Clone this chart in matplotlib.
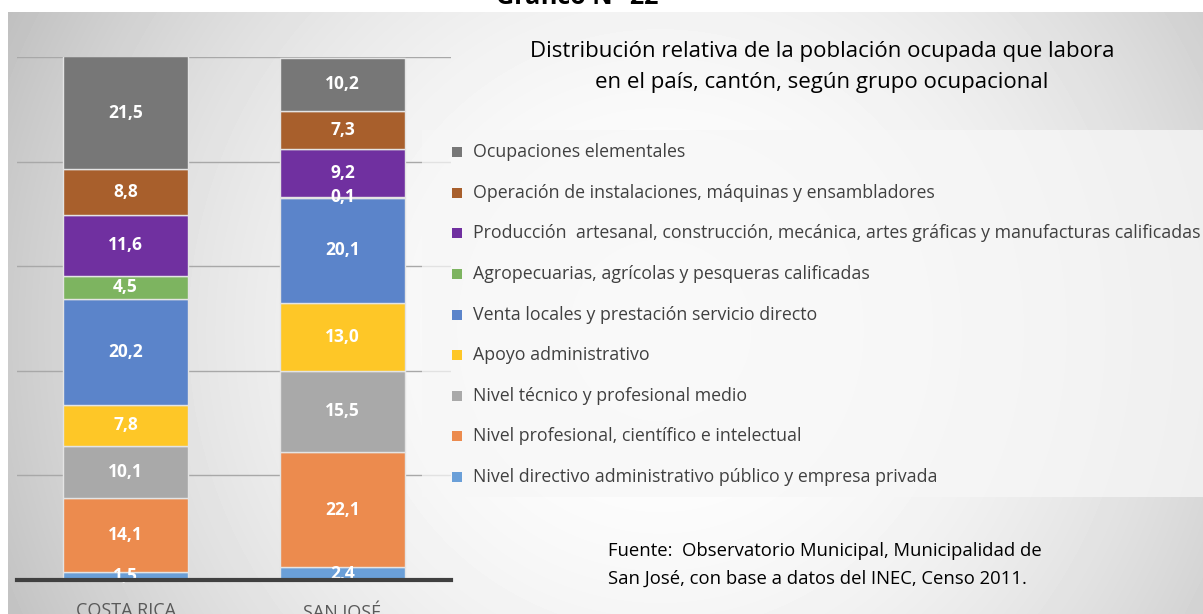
import numpy as np
import matplotlib
matplotlib.use("Agg")
import matplotlib.pyplot as plt
from matplotlib.patches import Rectangle

plt.rcParams['font.family'] = ['Open Sans', 'DejaVu Sans']

# data (bottom to top of each stacked bar)
categories = ["COSTA RICA", "SAN JOSÉ"]
groups = [
    "Nivel directivo administrativo público y empresa privada",
    "Nivel profesional, científico e intelectual",
    "Nivel técnico y profesional medio",
    "Apoyo administrativo",
    "Venta locales y prestación servicio directo",
    "Agropecuarias, agrícolas y pesqueras calificadas",
    "Producción  artesanal, construcción, mecánica, artes gráficas y manufacturas calificadas",
    "Operación de instalaciones, máquinas y ensambladores",
    "Ocupaciones elementales",
]
costa_rica = [1.5, 14.1, 10.1, 7.8, 20.2, 4.5, 11.6, 8.8, 21.5]
san_jose = [2.4, 22.1, 15.5, 13.0, 20.1, 0.1, 9.2, 7.3, 10.2]
colors = ['#6A9FD8', '#EC8B4E', '#A9A9A9', '#FEC727', '#5B84CA',
          '#7DB460', '#7030A0', '#A85F2C', '#777777']

W, H = 1203, 614
fig = plt.figure(figsize=(W / 100, H / 100), dpi=100)

# background gradient (white strip at the top, grey edges)
bg = fig.add_axes([0, 0, 1, 1], zorder=-10)
yy, xx = np.mgrid[0:H, 0:W]
r2 = ((xx - 660) / 650.0) ** 2 + ((yy - 330) / 650.0) ** 2
img = np.clip(1 - 0.2 * r2, 0, 1)
img[:12, :] = 1.0
img[:, :8] = 1.0
bg.imshow(img, cmap='gray', vmin=0, vmax=1, aspect='auto', interpolation='bilinear')
bg.axis('off')

# bar chart
ax = fig.add_axes([17 / W, 1 - 580 / H, (451 - 17) / W, (580 - 57) / H])
ax.patch.set_alpha(0)
x = np.arange(len(categories))
bottoms = np.zeros(len(categories))
for name, cr, sj, col in zip(groups, costa_rica, san_jose, colors):
    vals = np.array([cr, sj])
    ax.bar(x, vals, 0.58, bottom=bottoms, color=col,
           edgecolor='#e4e4e4', linewidth=1, zorder=3, label=name)
    for xi, v, b in zip(x, vals, bottoms):
        ax.text(xi, b + v / 2, f"{v:.1f}".replace('.', ','), ha='center', va='center',
                color='white', fontsize=12.5, fontweight='bold', zorder=4)
    bottoms += vals

ax.set_xlim(-0.5, 1.5)
ax.set_ylim(0, 100)
ax.set_yticks([20, 40, 60, 80, 100])
ax.yaxis.grid(True, color='#a8a8a8', linewidth=1)
ax.set_axisbelow(True)
ax.tick_params(left=False, labelleft=False, bottom=False, pad=12)
ax.set_xticks(x)
ax.set_xticklabels(categories, fontsize=13, color='#595959')
for s in ['top', 'right', 'left']:
    ax.spines[s].set_visible(False)
ax.spines['bottom'].set_color('#404040')
ax.spines['bottom'].set_linewidth(3)
ax.spines['bottom'].set_zorder(5)

# titles
fig.text(577 / W, 1 - 4 / H, "Gráfico N° 22", ha='center', va='baseline',
         fontsize=18, fontweight='bold', color='black')
fig.text(822 / W, 1 - 67 / H,
         "Distribución relativa de la población ocupada que labora\nen el país, cantón, según grupo ocupacional",
         ha='center', va='center', fontsize=16, color='black', linespacing=1.6)

# legend box
fig.patches.append(Rectangle((422 / W, 1 - 497 / H), (W - 422) / W, (497 - 130) / H,
                             transform=fig.transFigure, facecolor='#f7f7f7', alpha=0.75,
                             edgecolor='none', zorder=1))
row_y = np.linspace(152, 477, len(groups))
for name, col, yc in zip(groups[::-1], colors[::-1], row_y):
    fig.patches.append(Rectangle((452 / W, 1 - (yc + 5) / H), 10 / W, 10 / H,
                                 transform=fig.transFigure, facecolor=col,
                                 edgecolor='none', zorder=2))
    fig.text(473 / W, 1 - yc / H, name, ha='left', va='center',
             fontsize=12.8, color='#404040', zorder=3)

# source note
fig.text(608 / W, 1 - 565 / H,
         "Fuente:  Observatorio Municipal, Municipalidad de\nSan José, con base a datos del INEC, Censo 2011.",
         ha='left', va='center', fontsize=13.3, color='black', linespacing=1.66)

fig.savefig("out.png", dpi=100)
